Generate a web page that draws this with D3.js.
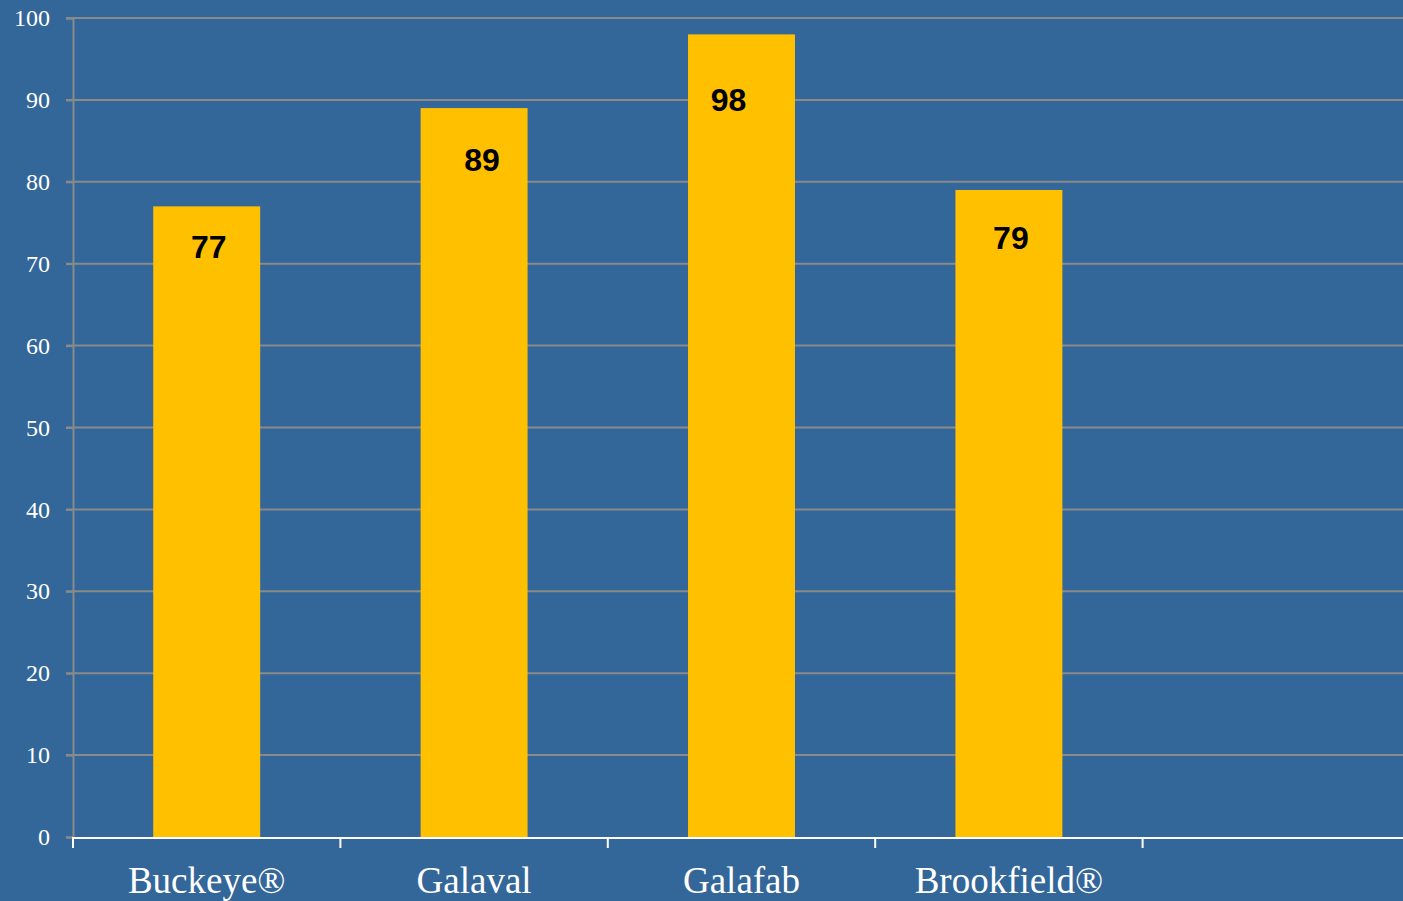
<!DOCTYPE html>
<html lang="en">
	<head>
		<meta charset="utf-8">
		<title>Bar chart</title>
		<style>
			body { margin: 0; background: #336699; }
			.grid line { stroke: #8a8a8a; stroke-width: 2px; }
			.bar { fill: #ffc000; }
		</style>
	</head>
	<body>
		<div id="graphic"></div>
		<script src="https://cdnjs.cloudflare.com/ajax/libs/d3/7.8.5/d3.min.js"></script>
		<script>
            var categories = ['Buckeye®', 'Galaval', 'Galafab', 'Brookfield®', ''];
            var values = [77, 89, 98, 79, null];
            var yTicks = [0, 10, 20, 30, 40, 50, 60, 70, 80, 90, 100];

            // hand-placed label nudges, as in the original slide
            var labelDx = [2, 8, -13, 2];
            var labelDy = [52, 63, 77, 59];

            var width = 1403,
                height = 901,
                mLeft = 73,
                mTop = 18,
                mBottom = 837,
                mRight = 1410;

            var svg = d3.select('#graphic')
                        .append('svg')
                        .attr('width', width)
                        .attr('height', height);

            svg.append('rect')
               .attr('width', width)
               .attr('height', height)
               .attr('fill', '#336699');

            var x = d3.scaleBand().domain(d3.range(categories.length)).range([mLeft, mRight]).paddingInner(0);
            var y = d3.scaleLinear().domain([0, 100]).range([mBottom, mTop]);

            // gridlines
            svg.append('g')
               .attr('class', 'grid')
               .selectAll('line')
               .data(yTicks.slice(1))
               .enter()
                   .append('line')
                   .attr('x1', mLeft - 7)
                   .attr('x2', width)
                   .attr('y1', function(d) { return y(d); })
                   .attr('y2', function(d) { return y(d); });

            // y axis
            var yAxis = svg.append('g')
               .attr('transform', 'translate(' + mLeft + ',0)')
               .call(d3.axisLeft(y).tickValues(yTicks).tickSize(7).tickPadding(16));
            yAxis.select('.domain').attr('stroke', '#8a8a8a').attr('stroke-width', 2);
            yAxis.selectAll('.tick line').attr('stroke', '#8a8a8a').attr('stroke-width', 2);
            yAxis.selectAll('text')
                 .attr('fill', '#fff')
                 .attr('font-family', 'Liberation Serif, serif')
                 .attr('font-size', 24);

            // bars
            var bw = x.bandwidth() * 0.4;
            var shown = values.filter(function(v) { return v != null; });
            svg.selectAll('.bar')
               .data(shown)
               .enter()
                   .append('rect')
                   .classed('bar', true)
                   .attr('x', function(d, i) { return x(i) + (x.bandwidth() - bw) / 2; })
                   .attr('y', function(d) { return y(d); })
                   .attr('width', bw)
                   .attr('height', function(d) { return mBottom - y(d); });

            svg.selectAll('.val')
               .data(shown)
               .enter()
                   .append('text')
                   .attr('x', function(d, i) { return x(i) + x.bandwidth() / 2 + labelDx[i]; })
                   .attr('y', function(d, i) { return y(d) + labelDy[i]; })
                   .attr('text-anchor', 'middle')
                   .attr('font-family', 'Liberation Sans, Arial, sans-serif')
                   .attr('font-weight', 'bold')
                   .attr('font-size', 32)
                   .attr('fill', '#000')
                   .text(function(d) { return d; });

            // x axis
            svg.append('line')
               .attr('x1', mLeft).attr('x2', width)
               .attr('y1', mBottom + 1).attr('y2', mBottom + 1)
               .attr('stroke', '#fff').attr('stroke-width', 2);

            svg.selectAll('.xtick')
               .data(d3.range(categories.length + 1))
               .enter()
                   .append('line')
                   .attr('x1', function(d) { return mLeft + d * x.step(); })
                   .attr('x2', function(d) { return mLeft + d * x.step(); })
                   .attr('y1', mBottom)
                   .attr('y2', mBottom + 11)
                   .attr('stroke', '#fff').attr('stroke-width', 2);

            svg.selectAll('.xlab')
               .data(categories)
               .enter()
                   .append('text')
                   .attr('x', function(d, i) { return x(i) + x.bandwidth() / 2; })
                   .attr('y', 893)
                   .attr('text-anchor', 'middle')
                   .attr('font-family', 'Liberation Serif, serif')
                   .attr('font-size', 37)
                   .attr('fill', '#fff')
                   .text(function(d) { return d; });
		</script>
	</body>
</html>
